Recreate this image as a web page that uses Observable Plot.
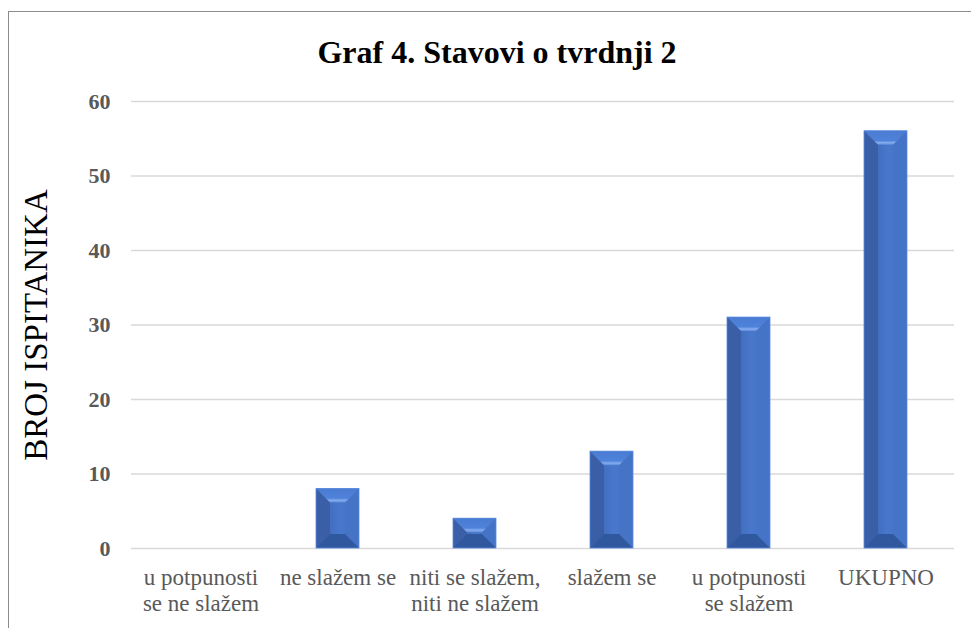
<!DOCTYPE html>
<html>
<head>
<meta charset="utf-8">
<script src="https://cdn.jsdelivr.net/npm/d3@7"></script>
<script src="https://cdn.jsdelivr.net/npm/@observablehq/plot@0.6"></script>
<style>
  html, body { margin: 0; padding: 0; background: #fff; }
  #wrap { position: relative; width: 971px; height: 628px; overflow: hidden; }
  #frame { position: absolute; left: 8px; top: 11px; width: 980px; height: 640px;
           border-left: 1.5px solid #8c8c8c; border-top: 1.5px solid #8c8c8c; box-sizing: border-box; }
  #title { position: absolute; left: 0; top: 32px; width: 994px; text-align: center; line-height: 40px;
           font-family: 'Liberation Serif', serif; font-weight: bold; font-size: 32px; color: #000; }
  #chart { position: absolute; left: 0; top: 80px; }
</style>
</head>
<body>
<div id="wrap">
  <div id="frame"></div>
  <div id="title">Graf 4. Stavovi o tvrdnji 2</div>
  <div id="chart"></div>
</div>
<script>
const categories = ["u potpunosti se ne slažem", "ne slažem se", "niti se slažem, niti ne slažem", "slažem se", "u potpunosti se slažem", "UKUPNO"];
const tickLabels = ["u potpunosti\nse ne slažem", "ne slažem se", "niti se slažem,\nniti ne slažem", "slažem se", "u potpunosti\nse slažem", "UKUPNO"];
const values = [0, 8, 4, 13, 31, 56];
const yTicks = [0, 10, 20, 30, 40, 50, 60];
const yLabel = "BROJ ISPITANIKA";

const rows = categories.map((c, i) => ({cat: c, value: values[i]}));
const labelOf = new Map(categories.map((c, i) => [c, tickLabels[i]]));

function bevelRender(index, scales, vals, dims, ctx, next) {
  const g = next(index, scales, vals, dims, ctx);
  const sel = d3.select(g);
  const defs = sel.insert("defs", ":first-child");
  const grad = defs.append("linearGradient").attr("id", "faceGrad").attr("x1", 0).attr("x2", 1).attr("y1", 0).attr("y2", 0);
  grad.append("stop").attr("offset", "0%").attr("stop-color", "#3a62ab");
  grad.append("stop").attr("offset", "55%").attr("stop-color", "#4877cc");
  grad.append("stop").attr("offset", "100%").attr("stop-color", "#4472c4");
  const hl = defs.append("linearGradient").attr("id", "topGrad").attr("x1", 0).attr("x2", 0).attr("y1", 0).attr("y2", 1);
  hl.append("stop").attr("offset", "0%").attr("stop-color", "#4a7bd2");
  hl.append("stop").attr("offset", "70%").attr("stop-color", "#4f82da");
  hl.append("stop").attr("offset", "85%").attr("stop-color", "#86adf0");
  hl.append("stop").attr("offset", "100%").attr("stop-color", "#5d8ad8");
  sel.selectAll("rect").each(function() {
    const r = d3.select(this);
    const x0 = +r.attr("x"), y0 = +r.attr("y"), w = +r.attr("width"), h = +r.attr("height");
    if (!(h > 0.5)) { r.remove(); return; }
    r.attr("fill", "url(#faceGrad)");
    const x1 = x0 + w, yb = y0 + h;
    const d = Math.min(14, h / 2, w / 2 - 3);
    const p = this.parentNode;
    const poly = (pts, fill) => d3.select(p).append("polygon").attr("points", pts.map(q => q.join(",")).join(" ")).attr("fill", fill);
    poly([[x0, y0], [x0 + d, y0 + d], [x0 + d, yb - d], [x0, yb]], "#3a5fa6");
    poly([[x1, y0], [x1 - d, y0 + d], [x1 - d, yb - d], [x1, yb]], "#4574c6");
    poly([[x0, y0], [x1, y0], [x1 - d, y0 + d], [x0 + d, y0 + d]], "url(#topGrad)");
    poly([[x0, yb], [x1, yb], [x1 - d, yb - d], [x0 + d, yb - d]], "#30589f");
    d3.select(p).append("rect").attr("x", x0).attr("y", y0).attr("width", w).attr("height", h)
      .attr("fill", "none").attr("stroke", "#5b8be0").attr("stroke-width", 0.8);
  });
  return g;
}

const chart = Plot.plot({
  width: 971,
  height: 548,
  marginTop: 21,
  marginBottom: 80,
  marginLeft: 131,
  marginRight: 17,
  style: {fontFamily: "Liberation Serif, serif", background: "transparent"},
  x: {domain: categories, paddingInner: 0.687, paddingOuter: 0.3435, align: 0.5},
  y: {domain: [0, 60]},
  marks: [
    Plot.gridY(yTicks, {stroke: "#d9d9d9", strokeOpacity: 1, strokeWidth: 1.5}),
    Plot.axisY(yTicks, {tickSize: 0, tickPadding: 21, fontSize: 22, fontWeight: "bold", fill: "#595959", label: null, fontFamily: "Liberation Serif"}),
    Plot.axisX({tickSize: 0, tickPadding: 18, fontSize: 23, fill: "#595959", lineHeight: 1.13, label: null, fontFamily: "Liberation Serif",
                tickFormat: d => labelOf.get(d), textAnchor: "middle"}),
    Plot.barY(rows, {x: "cat", y: "value", fill: "#4472c4", render: bevelRender}),
    Plot.text([yLabel], {frameAnchor: "left", dx: -95, rotate: -90, textAnchor: "middle", fontSize: 33, fill: "#000", fontFamily: "Liberation Serif", text: d => d})
  ]
});
document.getElementById("chart").appendChild(chart);
</script>
</body>
</html>
